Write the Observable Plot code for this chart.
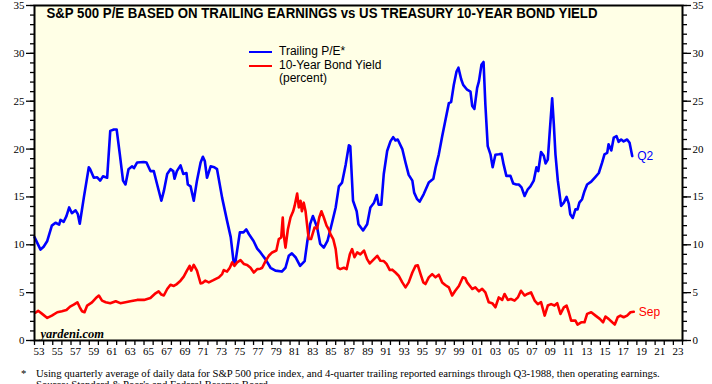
<!DOCTYPE html>
<html><head><meta charset="utf-8">
<script src="https://cdn.jsdelivr.net/npm/d3@7"></script>
<script src="https://cdn.jsdelivr.net/npm/@observablehq/plot@0.6"></script>
<style>
body{margin:0;background:#fff;}
#wrap{position:relative;width:712px;height:384px;overflow:hidden;}
.leg{position:absolute;font-family:"Liberation Sans",Arial,sans-serif;font-size:12px;color:#000;line-height:13px;}
.sw{position:absolute;width:23px;height:0;border-top:2.5px solid;}
.foot{position:absolute;font-family:"Liberation Serif","Times New Roman",serif;font-size:10.7px;color:#000;white-space:nowrap;}
</style></head>
<body><div id="wrap"></div>
<script>
const titleText = "S&P 500 P/E BASED ON TRAILING EARNINGS vs US TREASURY 10-YEAR BOND YIELD";
const seriesNames = ["Trailing P/E*", "10-Year Bond Yield", "(percent)"];
const endLabels = ["Q2", "Sep"];
const yTicks = [0, 5, 10, 15, 20, 25, 30, 35];
const xLabelYears = d3.range(1953, 2024, 2);

const peYear = [1953.0,1953.3,1953.66,1954.0,1954.4,1954.9,1955.3,1955.7,1955.85,1956.2,1956.5,1956.8,1957.1,1957.5,1957.75,1957.96,1958.4,1958.95,1959.1,1959.5,1959.87,1960.2,1960.5,1960.96,1961.3,1961.7,1962.0,1962.35,1962.7,1962.97,1963.3,1963.7,1963.9,1964.25,1964.97,1965.27,1965.7,1966.07,1966.44,1966.9,1967.17,1967.54,1967.9,1968.2,1968.34,1968.6,1969.0,1969.3,1969.65,1969.8,1970.1,1970.45,1970.8,1971.2,1971.45,1971.66,1971.9,1972.3,1972.7,1973.0,1973.56,1974.1,1974.5,1974.84,1975.0,1975.5,1975.9,1976.2,1976.5,1977.0,1977.4,1977.76,1978.3,1978.86,1979.4,1980.1,1980.5,1980.86,1981.2,1981.6,1982.1,1982.6,1982.9,1983.2,1983.5,1983.97,1984.3,1984.7,1985.1,1985.6,1986.0,1986.35,1986.7,1987.1,1987.45,1987.6,1987.9,1988.3,1988.5,1989.0,1989.45,1989.8,1990.2,1990.5,1990.7,1991.0,1991.27,1991.64,1992.0,1992.3,1992.55,1992.8,1993.3,1993.65,1994.0,1994.4,1994.6,1994.9,1995.2,1995.65,1996.2,1996.7,1996.94,1997.3,1997.67,1998.0,1998.4,1998.65,1998.94,1999.24,1999.45,1999.75,1999.97,2000.4,2000.77,2000.96,2001.2,2001.5,2001.7,2001.97,2002.2,2002.4,2002.66,2002.96,2003.2,2003.5,2003.87,2004.17,2004.4,2004.7,2005.15,2005.45,2005.8,2006.06,2006.36,2006.7,2007.05,2007.34,2007.7,2008.0,2008.2,2008.5,2008.8,2009.0,2009.24,2009.46,2009.72,2009.9,2010.08,2010.34,2010.7,2011.0,2011.3,2011.54,2011.7,2011.98,2012.27,2012.5,2012.7,2013.0,2013.26,2013.55,2014.0,2014.47,2014.83,2015.2,2015.45,2015.75,2015.9,2016.2,2016.47,2016.77,2017.0,2017.28,2017.55,2017.93,2018.2,2018.49];
const peValue = [10.8,10.2,9.5,9.8,10.4,12.0,12.3,12.1,12.6,12.4,13.0,13.9,13.3,13.6,13.2,12.2,14.9,18.1,17.9,17.0,17.05,16.7,17.15,17.0,21.9,22.05,22.05,19.45,16.7,16.3,17.9,18.2,18.0,18.6,18.65,18.6,17.7,17.7,16.3,14.6,15.6,17.4,17.9,17.7,16.9,17.7,18.3,17.4,17.5,16.3,16.1,14.6,16.7,18.6,19.2,18.75,17.0,18.2,18.1,17.9,14.9,12.5,10.8,8.0,8.1,11.3,11.3,11.6,11.1,10.4,9.6,9.2,8.5,7.6,7.3,7.2,7.6,8.85,9.1,8.7,7.8,8.3,10.4,12.15,13.0,11.8,10.1,9.7,10.4,12.3,13.9,16.1,16.5,18.4,20.4,20.3,14.6,13.5,12.15,11.5,12.15,13.9,14.4,15.2,14.2,14.2,17.4,19.8,20.8,21.25,20.9,21.0,20.0,18.6,17.3,16.7,15.45,14.8,14.5,15.3,16.5,16.9,18.05,19.45,21.35,22.9,24.8,24.9,26.7,28.1,28.5,27.3,26.7,26.2,26.0,24.5,24.2,26.4,27.1,28.8,29.1,24.65,20.3,19.45,18.1,19.4,19.45,19.5,18.4,17.2,17.2,16.4,16.3,16.3,16.0,15.1,15.8,16.1,16.7,18.1,17.7,19.7,19.3,18.5,18.9,21.9,25.3,22.6,19.45,16.7,14.06,14.4,15.0,14.3,13.2,12.8,13.7,13.7,14.4,14.76,15.6,16.3,16.6,17.1,17.5,18.6,19.45,19.6,20.5,19.85,21.2,21.35,20.76,21.0,20.8,21.0,20.65,19.27];

const yieldYear = [1953.1,1953.4,1953.84,1954.4,1954.9,1955.5,1956.0,1956.5,1956.9,1957.3,1957.7,1957.96,1958.2,1958.48,1958.77,1959.3,1959.8,1960.05,1960.4,1960.8,1961.3,1961.9,1962.4,1962.97,1963.5,1964.25,1965.0,1965.7,1966.26,1966.6,1966.9,1967.17,1967.54,1967.9,1968.26,1968.6,1969.0,1969.35,1969.7,1970.0,1970.17,1970.45,1970.8,1971.2,1971.4,1971.7,1972.1,1972.6,1973.2,1973.56,1973.74,1974.1,1974.4,1974.66,1974.9,1975.2,1975.57,1975.93,1976.3,1976.67,1977.03,1977.4,1977.76,1977.95,1978.3,1978.67,1979.04,1979.5,1979.77,1980.03,1980.2,1980.3,1980.5,1980.76,1981.05,1981.34,1981.5,1981.78,1981.96,1982.15,1982.3,1982.5,1982.7,1982.9,1983.05,1983.3,1983.68,1983.97,1984.2,1984.44,1984.7,1985.0,1985.25,1985.43,1985.73,1986.0,1986.23,1986.5,1986.9,1987.2,1987.55,1987.8,1988.06,1988.36,1988.7,1989.1,1989.44,1989.74,1990.2,1990.55,1990.9,1991.27,1991.57,1991.93,1992.2,1992.55,1992.9,1993.3,1993.65,1994.0,1994.4,1994.75,1995.0,1995.3,1995.6,1995.84,1996.2,1996.57,1996.94,1997.3,1997.67,1998.0,1998.4,1998.76,1999.1,1999.5,1999.93,2000.2,2000.4,2000.96,2001.3,2001.7,2002.05,2002.4,2002.77,2003.15,2003.5,2003.87,2004.24,2004.5,2004.86,2005.2,2005.6,2005.96,2006.3,2006.7,2007.0,2007.4,2007.8,2008.15,2008.5,2008.9,2009.24,2009.6,2009.97,2010.27,2010.63,2011.0,2011.3,2011.54,2011.8,2012.27,2012.5,2012.9,2013.26,2013.55,2014.0,2014.47,2014.94,2015.3,2015.56,2015.9,2016.3,2016.58,2016.9,2017.2,2017.55,2017.93,2018.3,2018.66];
const yieldValue = [2.9,3.1,2.78,2.36,2.6,2.95,3.06,3.19,3.54,3.75,3.99,3.47,3.06,2.95,3.65,3.99,4.5,4.7,4.17,4.0,3.9,4.1,3.9,4.0,4.1,4.24,4.24,4.44,4.93,5.14,4.8,4.7,5.38,5.83,5.7,5.9,6.25,6.67,7.3,7.8,7.3,7.9,7.3,5.97,6.0,6.25,6.07,6.3,6.6,6.94,7.36,7.2,7.6,8.16,7.8,8.16,8.4,8.0,7.9,7.6,7.1,7.46,7.5,7.6,8.26,8.85,9.2,9.4,10.6,10.76,12.85,11.1,9.7,11.6,12.85,13.5,14.06,15.35,13.9,14.6,13.5,14.4,13.5,11.8,10.6,10.6,11.8,11.7,12.85,13.5,12.85,12.0,11.6,11.1,10.6,9.55,7.6,7.46,7.6,7.46,9.0,9.55,8.7,9.2,9.0,9.4,8.5,8.05,8.5,8.85,8.33,8.3,8.0,7.36,7.4,7.1,6.77,6.07,5.55,6.07,7.1,7.8,7.85,6.94,6.07,5.9,6.6,6.94,6.6,6.87,6.07,5.8,5.55,4.7,5.2,5.7,6.6,6.5,6.07,5.38,5.55,5.14,5.4,5.03,4.0,3.9,3.47,4.5,4.24,4.86,4.24,4.34,4.17,4.5,5.2,4.7,4.86,5.03,4.17,3.8,4.0,2.6,3.65,3.8,3.65,3.9,2.78,3.47,3.65,2.95,2.08,2.08,1.67,1.9,1.9,2.78,2.95,2.6,2.26,1.9,2.5,2.26,1.9,1.67,2.43,2.6,2.43,2.6,2.95,3.0];

const pe = peYear.map((t, i) => ({t, v: peValue[i]}));
const yld = yieldYear.map((t, i) => ({t, v: yieldValue[i]}));

const serif = "'Liberation Serif','Times New Roman',serif";
const sans = "'Liberation Sans',Arial,sans-serif";
const blue = "#0000ff", red = "#ff0000";

const chart = Plot.plot({
  width: 712, height: 360,
  marginLeft: 34, marginRight: 30, marginTop: 5, marginBottom: 20,
  style: {background: "transparent", fontFamily: serif, fontSize: "11px", color: "#000"},
  x: {domain: [1953, 2024], axis: null},
  y: {domain: [0, 35], axis: null},
  marks: [
    Plot.frame({fill: "#ffffe6", stroke: "none"}),
    Plot.line(pe, {x: "t", y: "v", stroke: blue, strokeWidth: 2.6, curve: "linear"}),
    Plot.line(yld, {x: "t", y: "v", stroke: red, strokeWidth: 2.6, curve: "linear"}),
    Plot.text([pe[pe.length - 1]], {x: "t", y: "v", text: () => endLabels[0], dx: 5, textAnchor: "start", fill: blue, fontFamily: sans, fontSize: 12}),
    Plot.text([yld[yld.length - 1]], {x: "t", y: "v", text: () => endLabels[1], dx: 5, textAnchor: "start", fill: red, fontFamily: sans, fontSize: 12}),
    Plot.text([titleText], {frameAnchor: "top-left", dx: 12, dy: 2, fontFamily: sans, fontWeight: "bold", fontSize: 14.5, fill: "#000", className: "ttl"}),
    Plot.text(["yardeni.com"], {frameAnchor: "bottom-left", dx: 6, dy: -3, fontFamily: serif, fontWeight: "bold", fontStyle: "italic", fontSize: 12.5, fill: "#000"}),
    Plot.axisY({anchor: "left", ticks: d3.range(0, 36, 1), tickSize: 4, tickFormat: () => "", strokeWidth: 1.3, label: null}),
    Plot.axisY({anchor: "left", ticks: yTicks, tickSize: 8, tickPadding: 2, strokeWidth: 1.3, fontFamily: serif, fontSize: 11, label: null}),
    Plot.axisY({anchor: "right", ticks: d3.range(0, 36, 1), tickSize: 4, tickFormat: () => "", strokeWidth: 1.3, label: null}),
    Plot.axisY({anchor: "right", ticks: yTicks, tickSize: 8, tickPadding: 2, strokeWidth: 1.3, fontFamily: serif, fontSize: 11, label: null}),
    Plot.axisX({ticks: d3.range(1953, 2025), tickSize: 5, tickFormat: () => "", strokeWidth: 1.3, label: null}),
    Plot.axisX({ticks: xLabelYears.map(y => y + 0.5), tickSize: 0, tickPadding: 7, tickFormat: d => String(Math.floor(d) % 100).padStart(2, "0"), fontFamily: serif, fontSize: 11, label: null}),
    Plot.frame({stroke: "#000", strokeWidth: 2})
  ]
});

// condense the title to the reference's width
d3.select(chart).selectAll("g.ttl text").attr("textLength", 551).attr("lengthAdjust", "spacingAndGlyphs");

const wrap = document.getElementById("wrap");
wrap.appendChild(chart);

// legend
const leg = [
  {c: blue, t: seriesNames[0], top: 45},
  {c: red, t: seriesNames[1], top: 59}
];
leg.forEach(d => {
  const s = document.createElement("div"); s.className = "sw";
  s.style.left = "249px"; s.style.top = (d.top + 6) + "px"; s.style.borderColor = d.c;
  wrap.appendChild(s);
  const l = document.createElement("div"); l.className = "leg";
  l.style.left = "279px"; l.style.top = d.top + "px"; l.textContent = d.t;
  wrap.appendChild(l);
});
const p = document.createElement("div"); p.className = "leg";
p.style.left = "279px"; p.style.top = "72px"; p.textContent = seriesNames[2];
wrap.appendChild(p);

// footnote
const f1 = document.createElement("div"); f1.className = "foot";
f1.style.left = "21px"; f1.style.top = "367px"; f1.textContent = "*";
wrap.appendChild(f1);
const f2 = document.createElement("div"); f2.className = "foot";
f2.style.left = "36px"; f2.style.top = "367px";
f2.textContent = "Using quarterly average of daily data for S&P 500 price index, and 4-quarter trailing reported earnings through Q3-1988, then operating earnings.";
wrap.appendChild(f2);
const f3 = document.createElement("div"); f3.className = "foot";
f3.style.left = "36px"; f3.style.top = "378px";
f3.textContent = "Source: Standard & Poor's and Federal Reserve Board.";
wrap.appendChild(f3);
</script>
</body></html>
